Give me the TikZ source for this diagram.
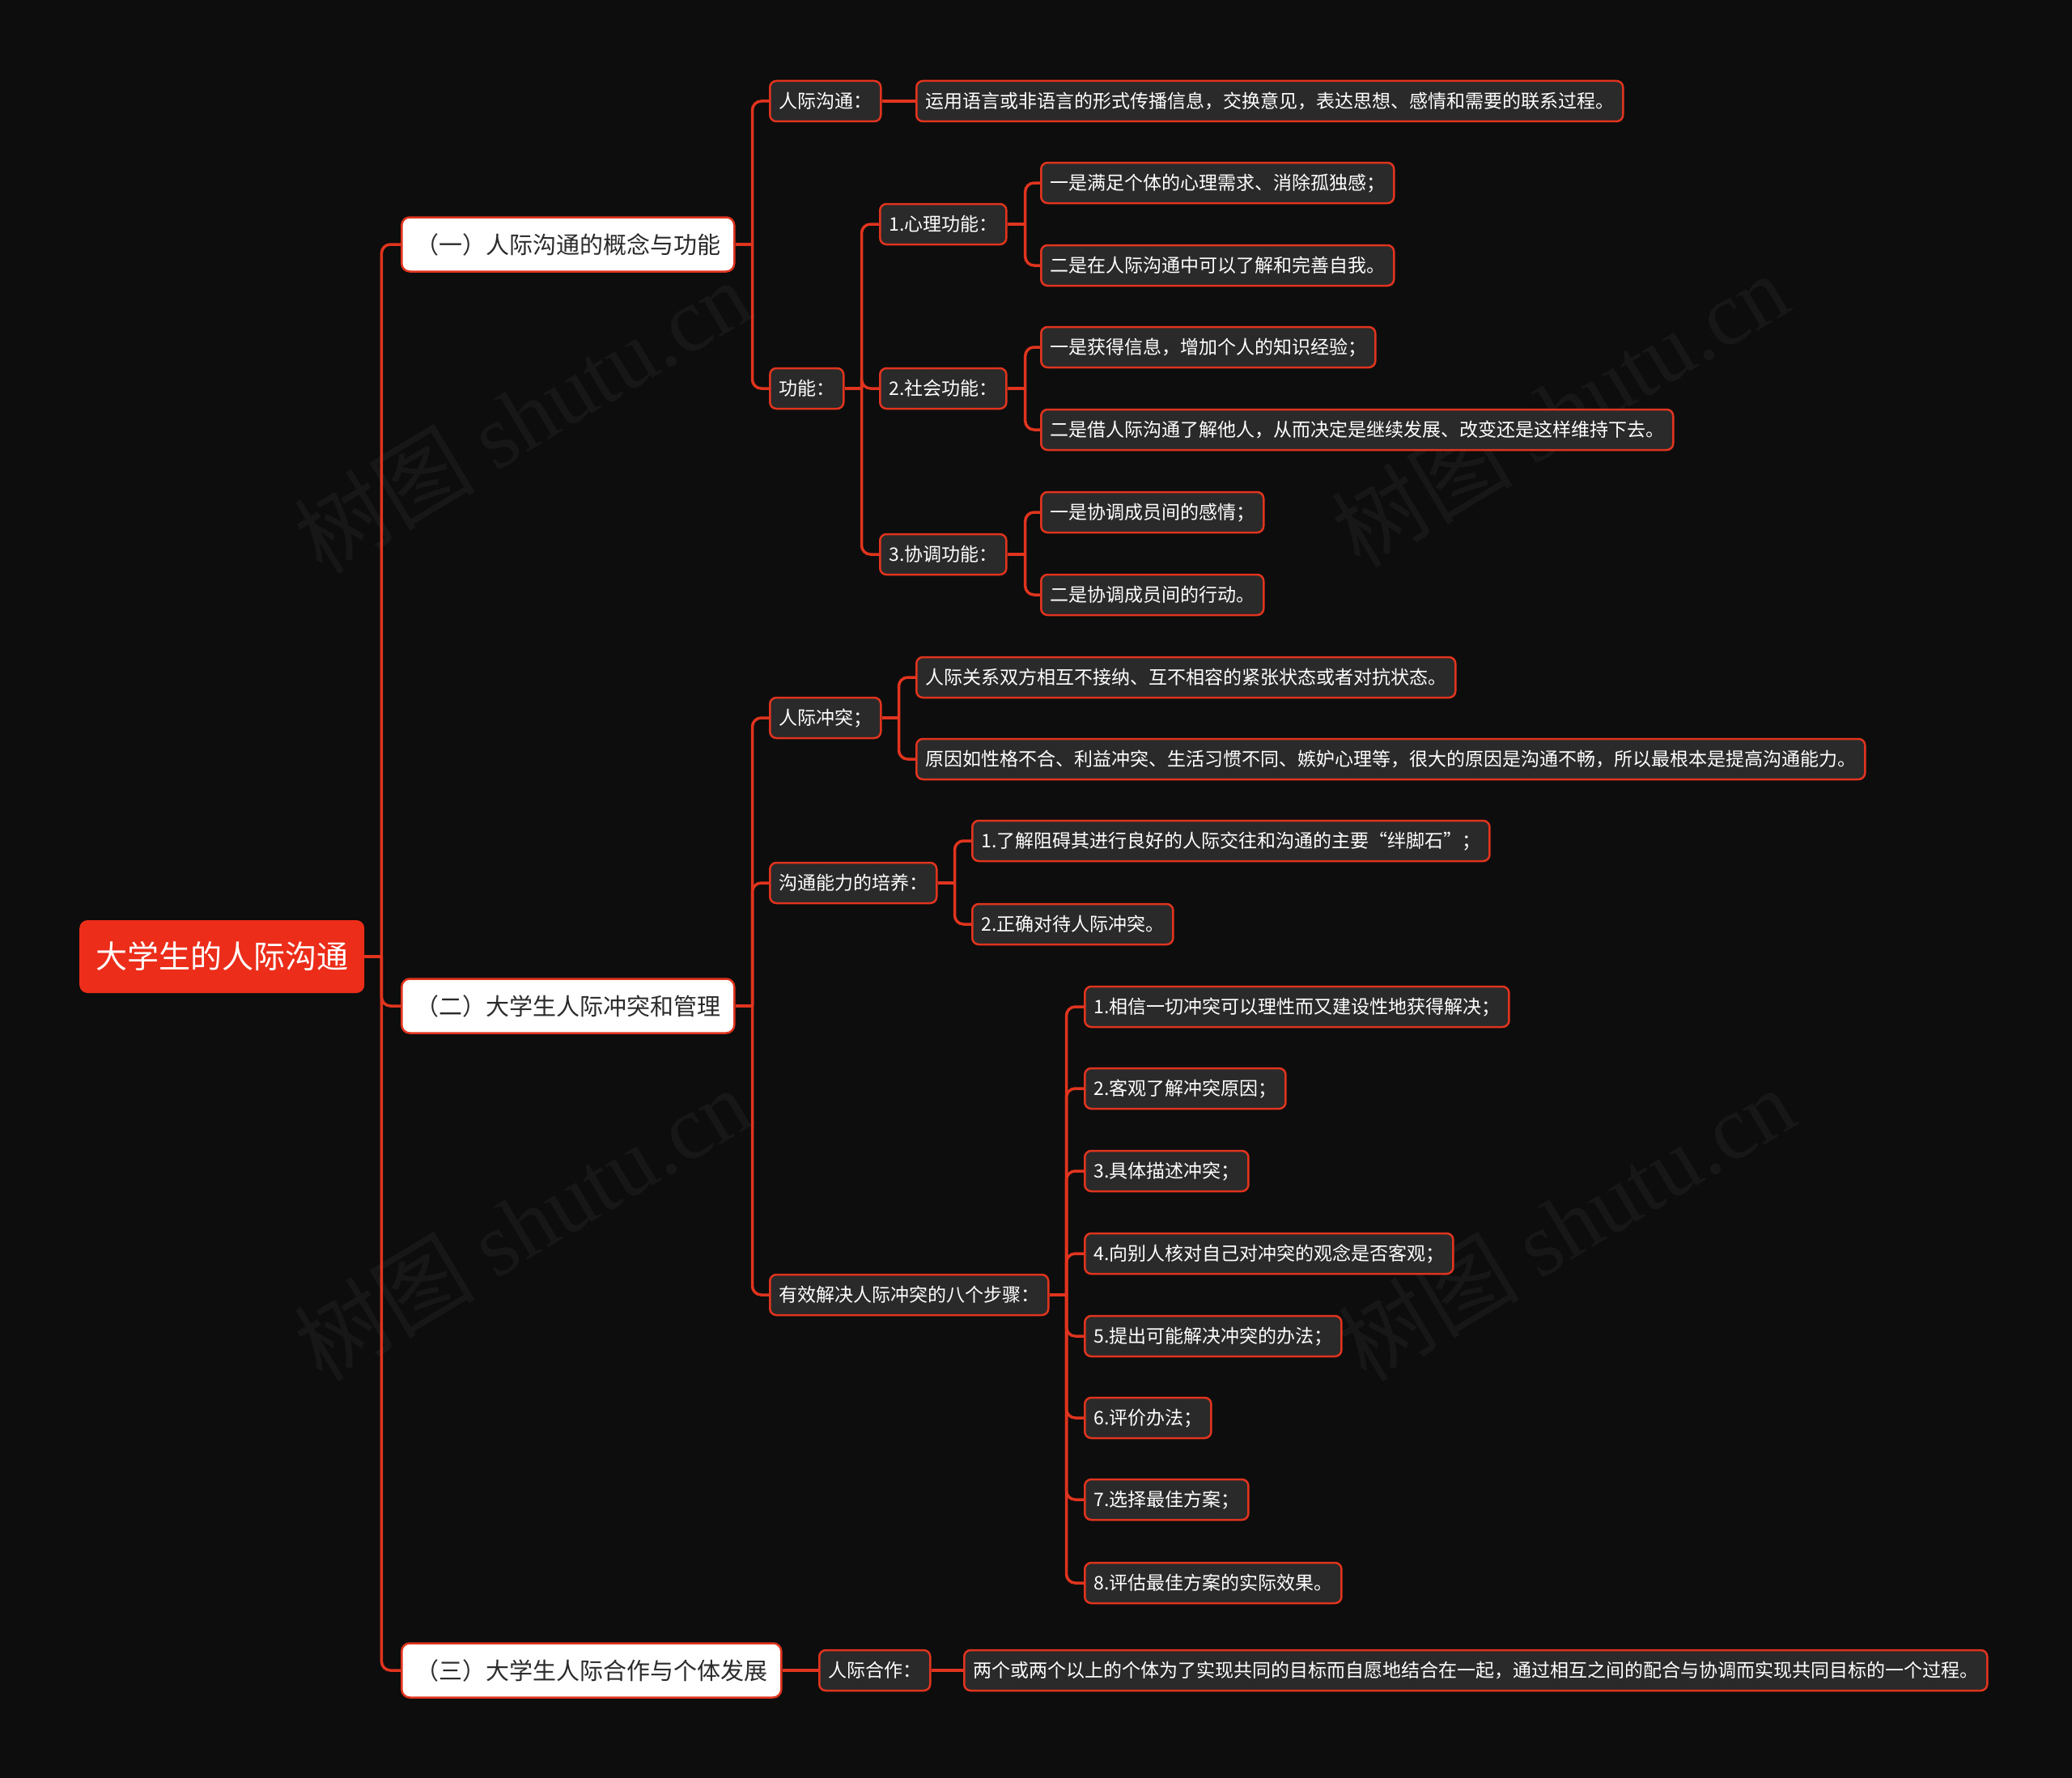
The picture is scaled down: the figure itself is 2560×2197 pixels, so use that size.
\documentclass[tikz,border=0pt]{standalone}
\usepackage{fontspec}
\setmainfont{Noto Sans CJK SC}
\newfontfamily\wmfont{Liberation Serif}
\usetikzlibrary{calc}
\definecolor{bgc}{HTML}{0D0D0D}
\definecolor{boxc}{HTML}{2A2A2A}
\definecolor{lc}{HTML}{E0341F}
\definecolor{rootc}{HTML}{EC2D1A}
\definecolor{txtdark}{HTML}{2B2B2B}
\definecolor{wmc}{HTML}{171717}
\tikzset{
  leaf/.style={draw=lc, line width=2.5pt, fill=boxc, rounded corners=8pt, text=white,
    font=\fontsize{23}{28}\selectfont, inner xsep=11pt, inner ysep=0pt,
    text height=20.2pt, text depth=2.8pt, minimum height=50pt, anchor=west},
  lvone/.style={draw=lc, line width=2.5pt, fill=white, rounded corners=10pt, text=txtdark,
    font=\fontsize{29}{34}\selectfont, inner xsep=17pt, inner ysep=0pt,
    text height=25.5pt, text depth=3.5pt, minimum height=67pt, anchor=west},
  rootbox/.style={fill=rootc, rounded corners=10pt, text=white,
    font=\fontsize{39}{46}\selectfont, inner xsep=20pt, inner ysep=0pt,
    text height=34.3pt, text depth=4.7pt, minimum height=90pt, anchor=west},
  conn/.style={draw=lc, line width=3.5pt},
  elb/.style={conn, rounded corners=11pt},
  wm/.style={text=wmc, rotate=31, font=\fontsize{112}{120}\selectfont}
}
\begin{document}
\begin{tikzpicture}[x=1pt,y=-1pt]
\fill[bgc] (0,0) rectangle (2560,2197);
\useasboundingbox (0,0) rectangle (2560,2197);

% watermarks
\node[wm] (wm1) at (645,514) {树图 {\wmfont shutu.cn}};
\node[wm] (wm2) at (1927,506) {树图 {\wmfont shutu.cn}};
\node[wm] (wm3) at (645,1512) {树图 {\wmfont shutu.cn}};
\node[wm] (wm4) at (1935,1512) {树图 {\wmfont shutu.cn}};

% nodes
\node[rootbox] (root) at (98,1182) {大学生的人际沟通};
\node[lvone] (A) at (495,302) {（一）人际沟通的概念与功能};
\node[lvone] (B) at (495,1243) {（二）大学生人际冲突和管理};
\node[lvone] (C) at (495,2064) {（三）大学生人际合作与个体发展};

\node[leaf] (a1) at (950,125) {人际沟通：};
\node[leaf] (a1c) at (1131,125) {运用语言或非语言的形式传播信息，交换意见，表达思想、感情和需要的联系过程。};
\node[leaf] (a2) at (950,480) {功能：};
\node[leaf] (f1) at (1086,277) {1.心理功能：};
\node[leaf] (f2) at (1086,480) {2.社会功能：};
\node[leaf] (f3) at (1086,685) {3.协调功能：};
\node[leaf] (f1a) at (1285,226) {一是满足个体的心理需求、消除孤独感；};
\node[leaf] (f1b) at (1285,328) {二是在人际沟通中可以了解和完善自我。};
\node[leaf] (f2a) at (1285,429) {一是获得信息，增加个人的知识经验；};
\node[leaf] (f2b) at (1285,531) {二是借人际沟通了解他人，从而决定是继续发展、改变还是这样维持下去。};
\node[leaf] (f3a) at (1285,633) {一是协调成员间的感情；};
\node[leaf] (f3b) at (1285,735) {二是协调成员间的行动。};

\node[leaf] (b1) at (950,887) {人际冲突；};
\node[leaf] (b1a) at (1131,837) {人际关系双方相互不接纳、互不相容的紧张状态或者对抗状态。};
\node[leaf] (b1b) at (1131,938) {原因如性格不合、利益冲突、生活习惯不同、嫉妒心理等，很大的原因是沟通不畅，所以最根本是提高沟通能力。};
\node[leaf] (b2) at (950,1091) {沟通能力的培养：};
\node[leaf] (b2a) at (1200,1039) {1.了解阻碍其进行良好的人际交往和沟通的主要“绊脚石”；};
\node[leaf] (b2b) at (1200,1142) {2.正确对待人际冲突。};
\node[leaf] (b3) at (950,1600) {有效解决人际冲突的八个步骤：};
\node[leaf] (s1) at (1339,1244) {1.相信一切冲突可以理性而又建设性地获得解决；};
\node[leaf] (s2) at (1339,1345) {2.客观了解冲突原因；};
\node[leaf] (s3) at (1339,1447) {3.具体描述冲突；};
\node[leaf] (s4) at (1339,1549) {4.向别人核对自己对冲突的观念是否客观；};
\node[leaf] (s5) at (1339,1651) {5.提出可能解决冲突的办法；};
\node[leaf] (s6) at (1339,1752) {6.评价办法；};
\node[leaf] (s7) at (1339,1853) {7.选择最佳方案；};
\node[leaf] (s8) at (1339,1956) {8.评估最佳方案的实际效果。};

\node[leaf] (c1) at (1011,2064) {人际合作：};
\node[leaf] (c1a) at (1190,2064) {两个或两个以上的个体为了实现共同的目标而自愿地结合在一起，通过相互之间的配合与协调而实现共同目标的一个过程。};

% connectors
\draw[conn] (root.east) -- ++(21,0) coordinate (rJ);
\foreach \c in {A,B,C} \draw[elb] (rJ) |- (\c.west);

\draw[conn] (A.east) -- ++(21,0) coordinate (AJ);
\foreach \c in {a1,a2} \draw[elb] (AJ) |- (\c.west);
\draw[conn] (a1.east) -- (a1c.west);

\draw[conn] (a2.east) -- ++(21,0) coordinate (a2J);
\foreach \c in {f1,f2,f3} \draw[elb] (a2J) |- (\c.west);

\draw[conn] (f1.east) -- ++(22,0) coordinate (f1J);
\foreach \c in {f1a,f1b} \draw[elb] (f1J) |- (\c.west);
\draw[conn] (f2.east) -- ++(22,0) coordinate (f2J);
\foreach \c in {f2a,f2b} \draw[elb] (f2J) |- (\c.west);
\draw[conn] (f3.east) -- ++(22,0) coordinate (f3J);
\foreach \c in {f3a,f3b} \draw[elb] (f3J) |- (\c.west);

\draw[conn] (B.east) -- ++(21,0) coordinate (BJ);
\foreach \c in {b1,b2,b3} \draw[elb] (BJ) |- (\c.west);

\draw[conn] (b1.east) -- ++(21,0) coordinate (b1J);
\foreach \c in {b1a,b1b} \draw[elb] (b1J) |- (\c.west);
\draw[conn] (b2.east) -- ++(21,0) coordinate (b2J);
\foreach \c in {b2a,b2b} \draw[elb] (b2J) |- (\c.west);
\draw[conn] (b3.east) -- ++(21,0) coordinate (b3J);
\foreach \c in {s1,s2,s3,s4,s5,s6,s7,s8} \draw[elb] (b3J) |- (\c.west);

\draw[conn] (C.east) -- (c1.west);
\draw[conn] (c1.east) -- (c1a.west);
\end{tikzpicture}
\end{document}
